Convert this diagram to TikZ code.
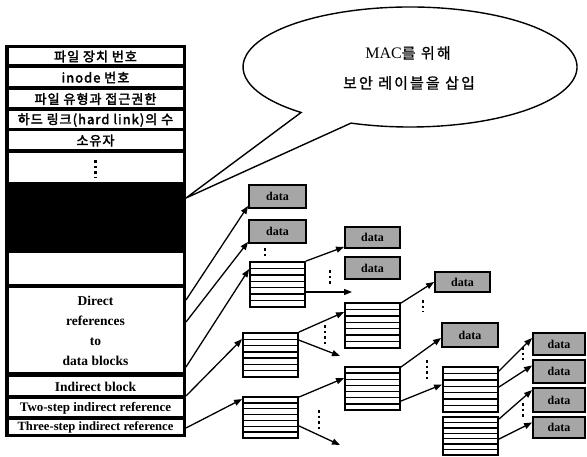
\documentclass[tikz,border=0pt]{standalone}
\usepackage{fontspec}
\setmainfont{Liberation Serif}
\newfontfamily\krb{Noto Sans CJK KR}[FakeBold=2.5,LetterSpace=8]
\newfontfamily\kr{Noto Sans CJK KR}[FakeBold=1,LetterSpace=14]
\usetikzlibrary{arrows.meta,calc}
\tikzset{
  rowbox/.style={draw=black, fill=white, line width=1pt, minimum width=175, inner sep=0, outer sep=0, align=center},
  krrow/.style={rowbox, font=\krb\fontsize{13}{13}\selectfont},
  enrow/.style={rowbox, font=\bfseries\fontsize{13.5}{20}\selectfont},
  databox/.style={draw=black, fill=black!35, line width=1.8pt, inner sep=0, font=\bfseries\fontsize{12}{12}\selectfont},
  stripebox/.style={draw=black, fill=white, line width=1.8pt, minimum width=55, inner sep=0,
    path picture={
      \foreach \k in {1,...,6}{
        \draw[line width=1.4pt] ($(path picture bounding box.north west)!\k/7!(path picture bounding box.south west)$) -- ($(path picture bounding box.north east)!\k/7!(path picture bounding box.south east)$);
      }
    }},
  arr/.style={-{Triangle[length=8pt,width=6pt]}, line width=1.3pt},
  vdots/.style={line width=2.6pt, dash pattern=on 2.6pt off 3pt},
  bubbletext/.style={font=\kr\fontsize{15}{15}\selectfont},
}
\begin{document}
\begin{tikzpicture}[x=1pt,y=1pt]
\useasboundingbox (0,0) rectangle (587,457);
\fill[white] (0,0) rectangle (587,457);

% inode table
\node[fill=black, minimum width=181, minimum height=392, inner sep=0, outer sep=0] (inode) at (95.5,216) {};
\node[krrow, minimum height=17] (r1) at (95.5,400.5) {파일 장치 번호};
\node[krrow, minimum height=19] (r2) at (95.5,379.5) {inode 번호};
\node[krrow, minimum height=18] (r3) at (95.5,358) {파일 유형과 접근권한};
\node[krrow, minimum height=18] (r4) at (95.5,337) {하드 링크(hard link)의 수};
\node[krrow, minimum height=19] (r5) at (95.5,316.5) {소유자};
\node[rowbox, minimum height=30] (r6) at (95.5,289) {};
\draw[vdots] ([yshift=8]r6.center) -- ([yshift=-10]r6.center);
\node[fill=black, minimum width=175, minimum height=64, inner sep=0] (sec) at (95.5,239) {};
\node[rowbox, minimum height=32] (r8) at (95.5,188) {};
\node[enrow, minimum height=85] (r9) at (95.5,126.5) {Direct\\references\\to\\data blocks};
\node[enrow, minimum height=19] (r10) at (95.5,70.5) {Indirect block};
\node[enrow, minimum height=18, font=\bfseries\fontsize{13}{13}\selectfont] (r11) at (95.5,49) {Two-step indirect reference};
\node[enrow, minimum height=15, font=\bfseries\fontsize{12.6}{13}\selectfont] (r12) at (95.5,29.5) {Three-step indirect reference};

% start points on table edge
\coordinate (s1) at (186,157);
\coordinate (s2) at (186,135);
\coordinate (s3) at (186,90);
\coordinate (s4) at (186,61);
\coordinate (s5) at (186,29);
\coordinate (tip) at (186,259);

% bubble
\draw[line width=1.4pt, fill=white] (410,390) ++(249.3:167 and 60)
  arc[start angle=249.3, end angle=589.3, x radius=167, y radius=60] -- (tip) -- cycle;
\node[bubbletext] (t1) at (408,404) {{\normalfont\fontsize{16}{16}\selectfont MAC}를 위해};
\node[bubbletext] (t2) at (409,374) {보안 레이블을 삽입};

% data boxes
\node[databox, minimum width=57, minimum height=23] (D1) at (277.5,260.5) {data};
\node[databox, minimum width=57, minimum height=23] (D2) at (277.5,225.5) {data};
\node[databox, minimum width=55, minimum height=21] (D3) at (372.5,219.5) {data};
\node[databox, minimum width=55, minimum height=22] (D4) at (372.5,189) {data};
\node[databox, minimum width=55, minimum height=20] (D5) at (462.5,175) {data};
\node[databox, minimum width=56, minimum height=24] (D6) at (470,122) {data};
\node[databox, minimum width=52, minimum height=22] (D7) at (559,113) {data};
\node[databox, minimum width=52, minimum height=23] (D8) at (559,85.5) {data};
\node[databox, minimum width=52, minimum height=24] (D9) at (559,57) {data};
\node[databox, minimum width=52, minimum height=21] (D10) at (559,29.5) {data};

% index blocks
\node[stripebox, minimum height=45] (B1) at (277.5,172.5) {};
\node[stripebox, minimum height=45] (B2) at (372.5,131.5) {};
\node[stripebox, minimum height=44] (B3) at (270.5,102) {};
\node[stripebox, minimum height=41] (B4) at (270.5,39.5) {};
\node[stripebox, minimum height=43] (B5) at (372.5,68.5) {};
\node[stripebox, minimum height=45] (B6) at (470.5,67.5) {};
\node[stripebox, minimum height=38] (B7) at (470.5,21) {};

% free arrow ends
\coordinate (f1) at (352,165);
\coordinate (f2) at (340,101);
\coordinate (f3) at (340,12);

% connectors
\draw[arr] (s1) -- ([yshift=3]D1.south west);
\draw[arr] (s2) -- ([yshift=2]D2.south west);
\draw[arr] (s3) -- ([yshift=-8]B1.north west);
\draw[arr] (s4) -- ([yshift=-7]B3.north west);
\draw[arr] (s5) -- ([yshift=-3]B4.north west);
\draw[arr] (B1.north east) -- ([yshift=2]D3.south west);
\draw[arr] ([yshift=-7.5]B1.east) -- (f1);
\draw[arr] (B3.north east) -- ([yshift=-10]B2.north west);
\draw[arr] ([yshift=-8]B3.north east) -- (f2);
\draw[arr] ([yshift=-1]B4.north east) -- ([yshift=-12]B5.north west);
\draw[arr] ([yshift=13]B4.south east) -- (f3);
\draw[arr] ([yshift=-1]B2.north east) -- (D5.west);
\draw[arr] ([yshift=-1]B5.north east) -- ([yshift=-3]D6.west);
\draw[arr] ([yshift=-35]B5.north east) -- ([yshift=5]B6.west);
\draw[arr] ([yshift=-5]B6.north east) -- ([yshift=6]D7.west);
\draw[arr] ([yshift=-21]B6.north east) -- ([yshift=6]D8.west);
\draw[arr] ([yshift=-3]B7.north east) -- ([yshift=-3]D9.north west);
\draw[arr] ([yshift=-23]B7.north east) -- ([yshift=5]D10.west);

% continuation dots
\draw[vdots] (265,209) -- (265,198);
\draw[vdots] (330,187) -- (330,171);
\draw[vdots] (325,132) -- (325,112);
\draw[vdots] (319,47) -- (319,28);
\draw[vdots] (423,157) -- (423,145);
\draw[vdots] (427,97) -- (427,78);
\draw[vdots] (523,110) -- (523,97);
\draw[vdots] (523,54) -- (523,40);
\end{tikzpicture}
\end{document}
